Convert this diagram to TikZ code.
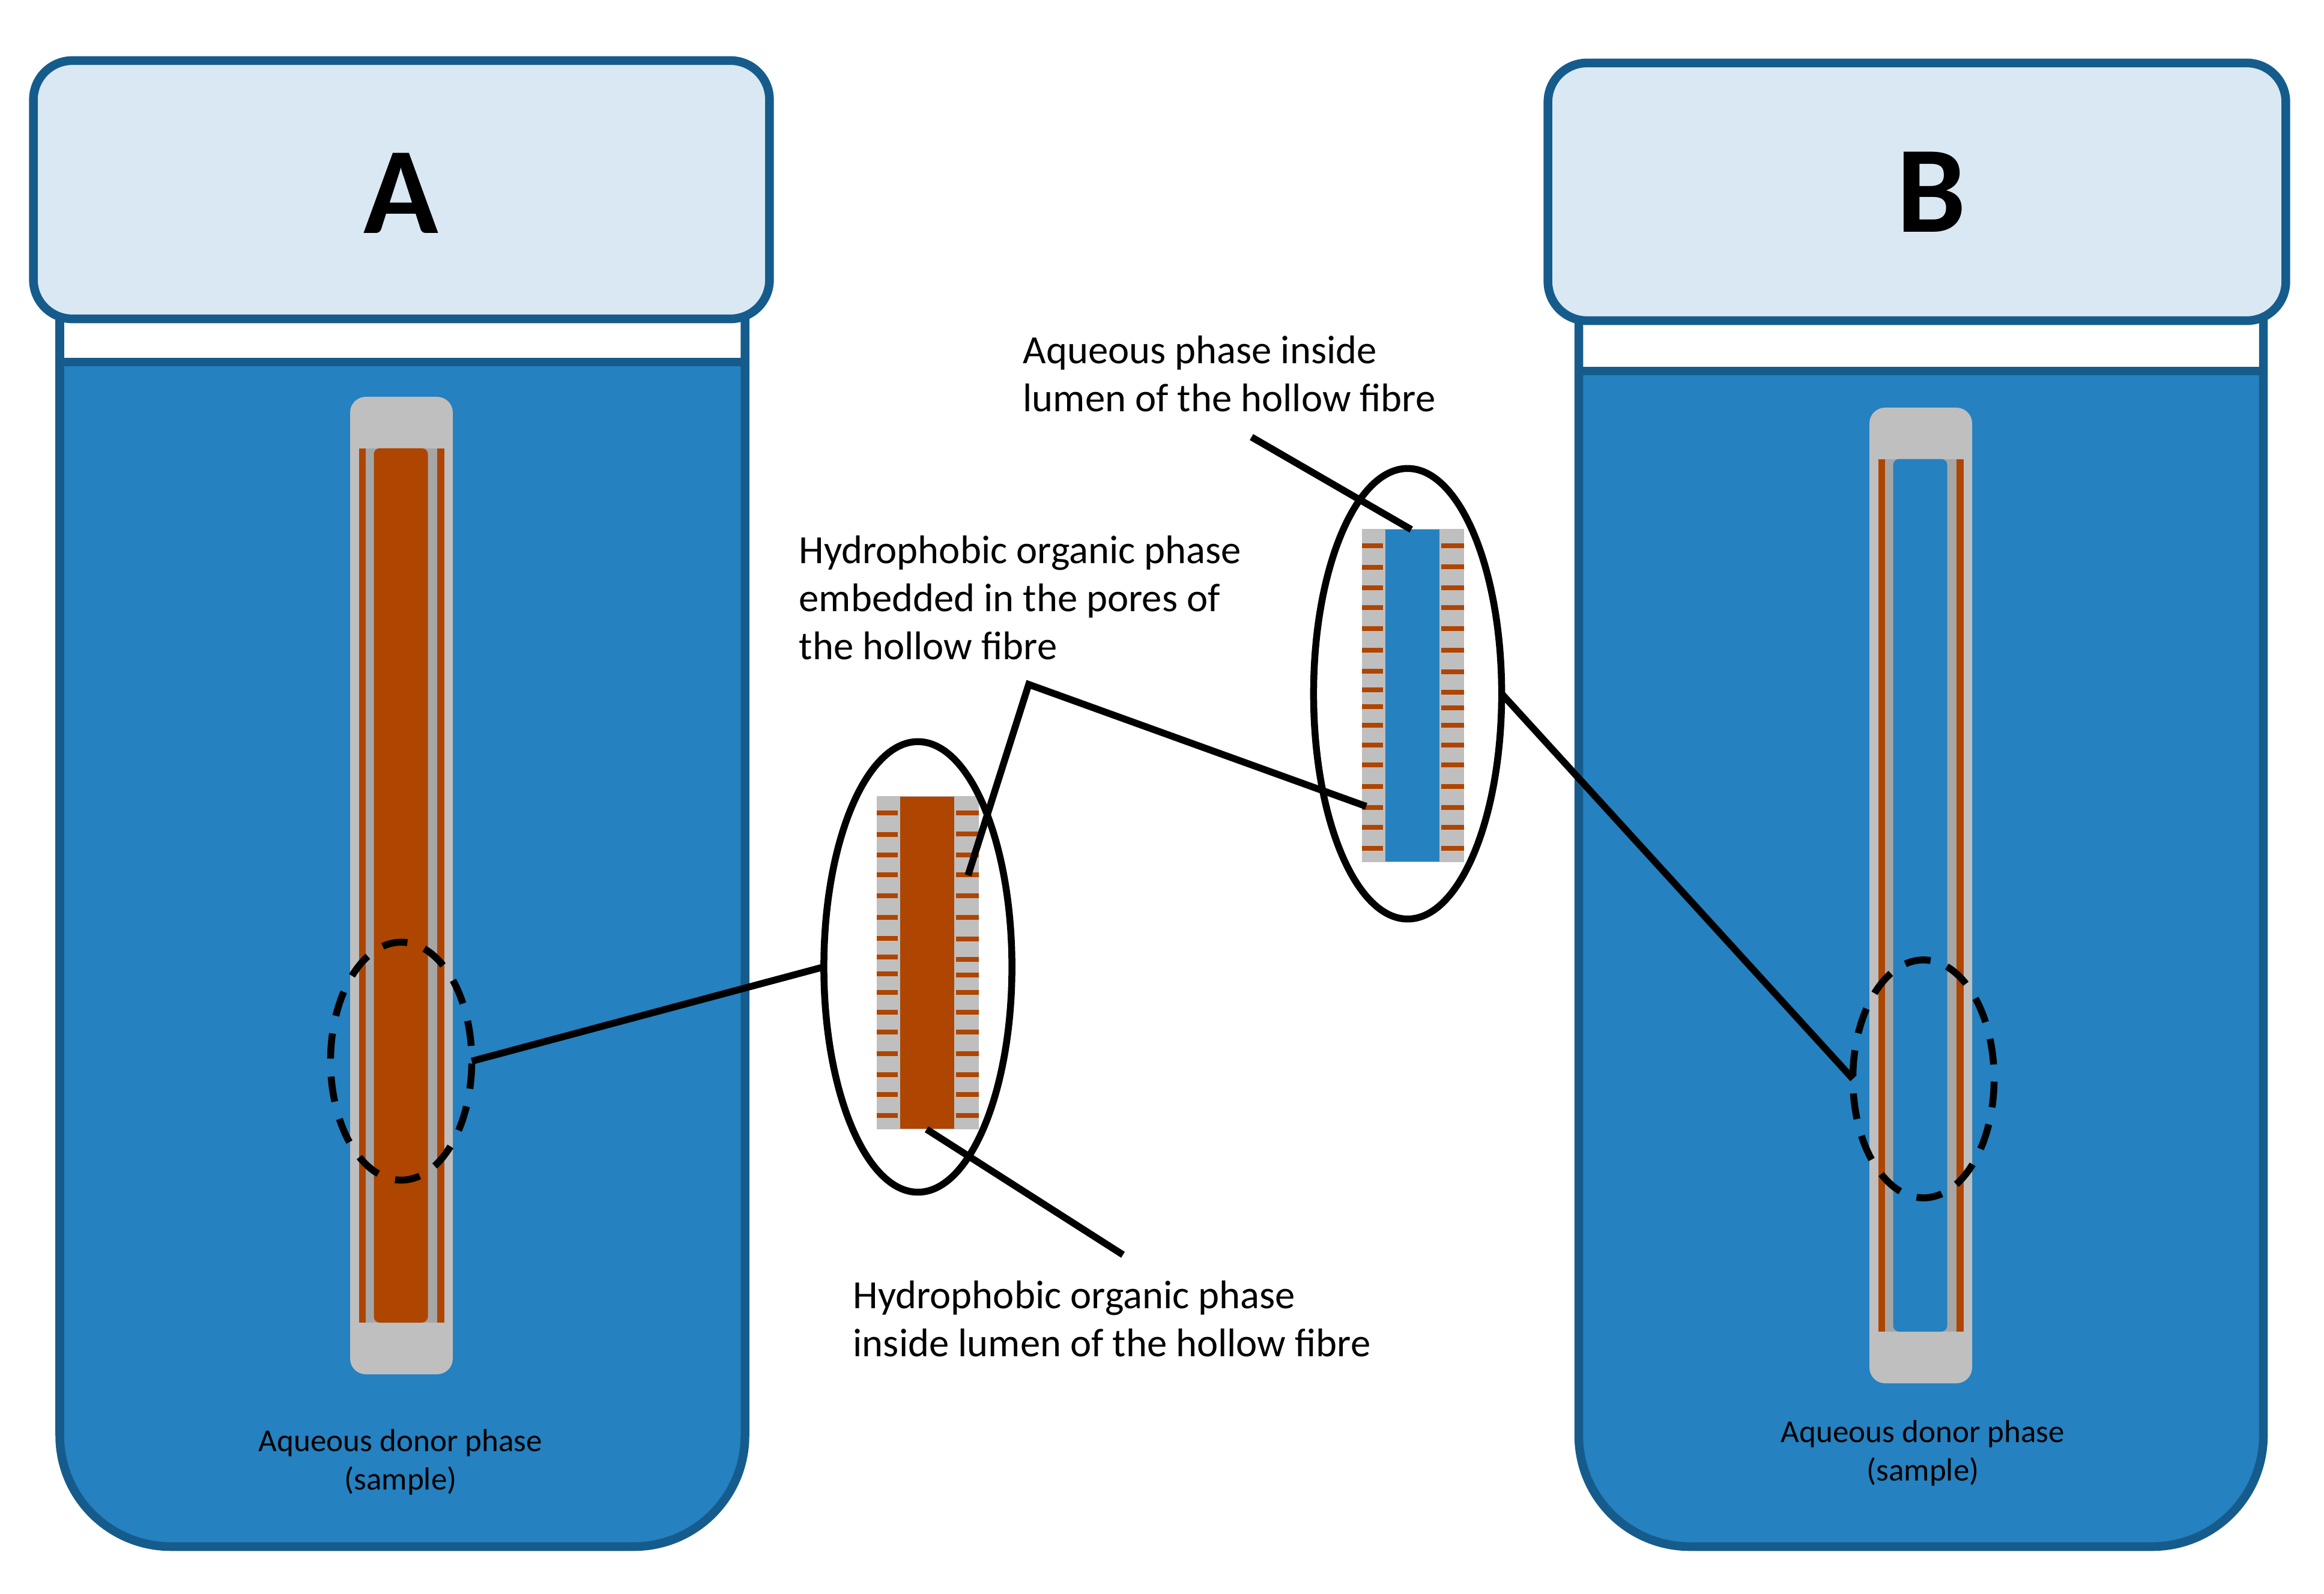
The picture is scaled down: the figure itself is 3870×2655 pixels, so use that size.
\documentclass[tikz,border=0pt]{standalone}
\usepackage{fontspec}
\setmainfont{Carlito}
\usetikzlibrary{shapes.geometric}
\definecolor{aqueous}{HTML}{2581BF}
\definecolor{vialedge}{HTML}{155C8C}
\definecolor{lidfill}{HTML}{DAE8F3}
\definecolor{organic}{HTML}{AE4500}
\definecolor{fibregrey}{HTML}{BFBFBF}
\definecolor{walldark}{HTML}{A6A6A6}
\tikzstyle{vialline}=[line width=1.45mm,draw=vialedge]
\tikzstyle{lidbox}=[rectangle,line width=1.45mm,draw=vialedge,fill=lidfill,
rounded corners=6.5mm,outer sep=0pt,inner sep=0pt]
\tikzstyle{title}=[font=\bfseries\fontsize{58.5}{70}\selectfont,anchor=base,inner sep=0pt]
\tikzstyle{donortext}=[font=\fontsize{15.1}{18.2}\selectfont,align=center,inner sep=0pt]
\tikzstyle{calloutext}=[font=\fontsize{18.95}{22.7}\selectfont,align=left,inner sep=0pt,anchor=north west]
\tikzstyle{zoomring}=[ellipse,line width=1.15mm,draw=black,inner sep=0pt,outer sep=0pt,
minimum width=31.3cm/10,minimum height=75cm/10]
\tikzstyle{markring}=[ellipse,line width=1.15mm,draw=black,inner sep=0pt,outer sep=0pt,
minimum width=23.5mm,minimum height=39.6mm]
\tikzstyle{callout}=[line width=1.15mm,draw=black]
\begin{document}
\begin{tikzpicture}[x=0.01cm,y=-0.01cm]
    \useasboundingbox (0,0) rectangle (3870,2655);

    % vials
    \foreach \vl/\vr/\wl in {99.5/1240.5/603, 2629/3769/618} {
        \fill[aqueous] (\vl,\wl) [rounded corners=18.5mm] -- (\vl,2576) -- (\vr,2576)
            [sharp corners] -- (\vr,\wl) -- cycle;
        \draw[vialline] (\vl,500) [rounded corners=18.5mm] -- (\vl,2576) -- (\vr,2576)
            [sharp corners] -- (\vr,500);
        \draw[vialline] (\vl,\wl) -- (\vr,\wl);
    }

    \node[lidbox,minimum width=122.5mm,minimum height=43mm] (lidA) at (668.5,316) {};
    \node[lidbox,minimum width=122.8mm,minimum height=42.9mm] (lidB) at (3192,319.5) {};
    \node[title] (titleA) at (668,389) {A};
    \node[title] (titleB) at (3216,387) {B};

    % hollow fibres in the vials
    \foreach \fx/\fy/\fb/\core in {583/661/2289/organic, 3113/679/2304/aqueous} {
        \fill[fibregrey,rounded corners=2.6mm] (\fx,\fy) rectangle (\fx+171,\fb);
        \fill[organic] (\fx+14.5,\fy+85.5) rectangle (\fx+157,\fb-86);
        \fill[walldark] (\fx+25.5,\fy+85.5) rectangle (\fx+144.5,\fb-86);
        \fill[\core,rounded corners=1mm] (\fx+39.5,\fy+85.5) rectangle (\fx+129.5,\fb-86);
    }

    % enlarged sections
    \foreach \sx/\sy/\core in {1460/1326/organic, 2268/881/aqueous} {
        \fill[fibregrey] (\sx,\sy) rectangle (\sx+170,\sy+555);
        \fill[\core] (\sx+38.5,\sy+1) rectangle (\sx+128.5,\sy+554);
        \foreach \py in {28,64,98,131,166,202,237,268,296,327,360,393,429,464,497,532}
            \fill[organic] (\sx,\sy+\py-4.4) rectangle (\sx+35,\sy+\py+4.4);
        \foreach \py in {28,63,98,131,166,202,238,272,298,327,360,393,429,464,497,532}
            \fill[organic] (\sx+132,\sy+\py-4.4) rectangle (\sx+170,\sy+\py+4.4);
    }

    \node[markring,dash pattern=on 4.2mm off 3mm,dash phase=4.65mm] (markA) at (668,1767.5) {};
    \node[markring,dash pattern=on 4.3mm off 2.9mm,dash phase=4.8mm] (markB) at (3203,1797) {};
    \node[zoomring] (zoomA) at (1528.5,1610.5) {};
    \node[zoomring] (zoomB) at (2344,1155.5) {};

    \node[donortext,anchor=north] (donorA) at (667,2380) {Aqueous donor phase\\(sample)};
    \node[donortext,anchor=north] (donorB) at (3202,2365) {Aqueous donor phase\\(sample)};
    \node[calloutext] (lumenB) at (1703,559) {Aqueous phase inside\\lumen of the hollow fibre};
    \node[calloutext] (poresT) at (1330,892) {Hydrophobic organic phase\\embedded in the pores of\\the hollow fibre};
    \node[calloutext] (lumenA) at (1420,2133) {Hydrophobic organic phase\\inside lumen of the hollow fibre};

    \coordinate (lumenBtail) at (2084,728);
    \coordinate (lumenBtip) at (2350,882);
    \coordinate (poresApex) at (1713,1140);
    \coordinate (poresAtip) at (1612,1458);
    \coordinate (poresBtip) at (2275,1343);
    \coordinate (lumenAtail) at (1870,2090);
    \coordinate (lumenAtip) at (1543,1881);

    \draw[callout] (markA.east) -- (zoomA.west);
    \draw[callout] (zoomB.east) -- (markB.west);
    \draw[callout] (lumenBtail) -- (lumenBtip);
    \draw[callout] (poresAtip) -- (poresApex) -- (poresBtip);
    \draw[callout] (lumenAtail) -- (lumenAtip);
\end{tikzpicture}
\end{document}
